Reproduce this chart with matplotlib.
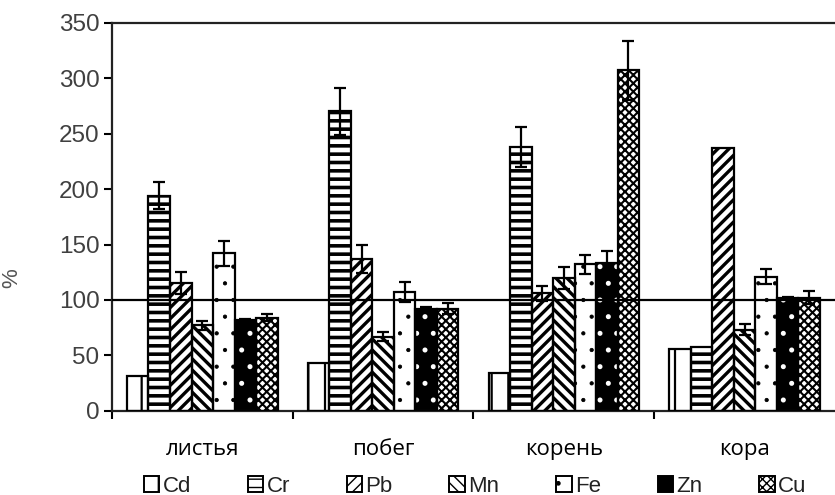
import numpy as np
import matplotlib.pyplot as plt
from matplotlib.patches import Patch

plt.rcParams['font.family'] = ['Liberation Sans', 'DejaVu Sans']

categories = ['листья', 'побег', 'корень', 'кора']
metals = ['Cd', 'Cr', 'Pb', 'Mn', 'Fe', 'Zn', 'Cu']

# values (% of control) per metal, in category order
cd = [31, 43, 34, 56]
cr = [194, 270, 238, 58]
pb = [115, 137, 106, 237]
mn = [77, 67, 120, 73]
fe = [142, 107, 132, 121]
zn = [82, 92, 133, 102]
cu = [84, 92, 307, 102]

cd_err = [0, 0, 0, 0]
cr_err = [12, 21, 18, 0]
pb_err = [10, 13, 7, 0]
mn_err = [4, 4, 10, 5]
fe_err = [11, 9, 9, 7]
zn_err = [1, 2, 11, 1]
cu_err = [3, 5, 27, 6]

values = [cd, cr, pb, mn, fe, zn, cu]
errors = [cd_err, cr_err, pb_err, mn_err, fe_err, zn_err, cu_err]

# face colour, hatch, hatch colour, hatch line width
styles = [
    ('white', '|', 'black', 1.6),
    ('white', '--', 'black', 2.6),
    ('white', '///', 'black', 2.4),
    ('white', '\\\\\\', 'black', 2.4),
    ('white', '.', 'black', 0.6),
    ('black', '.', 'white', 1.2),
    ('white', 'xxxx', 'black', 1.5),
]

fig = plt.figure(figsize=(8.35, 4.95), dpi=100)
ax = fig.add_axes([0.134, 0.170, 0.866, 0.784])

x = np.arange(len(categories))
w = 0.119
for i, (vals, errs, (fc, hatch, hc, hlw)) in enumerate(zip(values, errors, styles)):
    pos = x + (i - 3) * w
    with plt.rc_context({'hatch.linewidth': hlw}):
        ax.bar(pos, vals, w, color=fc, hatch=hatch, edgecolor=hc, lw=0,
               zorder=2)
    ax.bar(pos, vals, w, fill=False, edgecolor='black', lw=1.6, zorder=3)
    e = np.array(errs, dtype=float)
    m = e > 0
    ax.errorbar(pos[m], np.array(vals)[m], yerr=e[m], fmt='none',
                ecolor='black', elinewidth=1.6, capsize=4.5, capthick=1.6,
                zorder=5)

ax.axhline(100, color='black', lw=1.6, zorder=4)

ax.set_xlim(-0.5, 3.5)
ax.set_ylim(0, 350)
ax.set_yticks(np.arange(0, 351, 50))
ax.set_xticks(np.arange(-0.5, 3.0, 1.0))
ax.set_xticklabels([])
ax.set_xticks(x, minor=True)
ax.set_xticklabels(categories, minor=True, family=['Open Sans', 'DejaVu Sans'],
                   fontsize=16, color='black')
ax.tick_params(axis='x', which='minor', length=0, pad=20)
ax.tick_params(axis='x', which='major', length=6, width=1.5, direction='out')
ax.tick_params(axis='y', length=6, width=1.5, labelsize=17.5,
               labelcolor='#404040', pad=3)

for s in ['left', 'bottom', 'top']:
    ax.spines[s].set_linewidth(1.6)
    ax.spines[s].set_color('#222222')
ax.spines['right'].set_visible(False)

ax.set_ylabel('%', fontsize=16, color='#555555')
ax.yaxis.set_label_coords(-0.124, 0.343)

handles = []
for fc, h, hc, hlw in styles:
    with plt.rc_context({'hatch.linewidth': min(hlw, 1.5)}):
        handles.append(Patch(facecolor=fc, hatch=h, edgecolor='black', lw=1.4))
fig.legend(handles, metals, loc='center', bbox_to_anchor=(0.569, 0.018),
           ncol=7, frameon=False, fontsize=16, handlelength=0.7,
           handleheight=0.7, handletextpad=0.15, columnspacing=2.55,
           labelcolor='#222222')

fig.savefig('out.png', dpi=100)
